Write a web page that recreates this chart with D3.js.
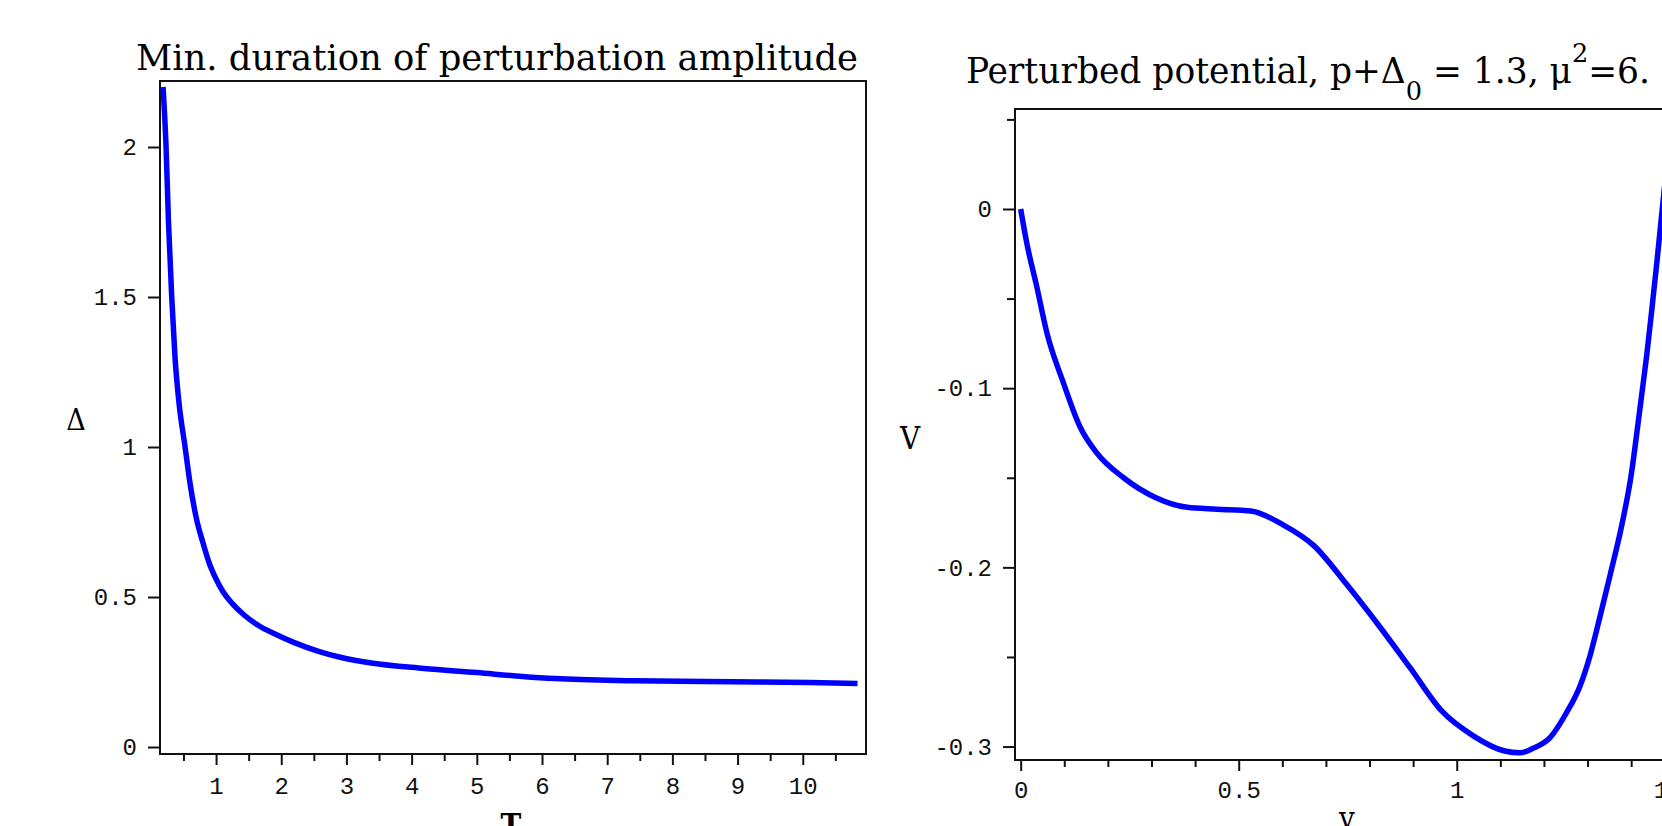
<!DOCTYPE html>
<html>
  <head>
    <meta charset="utf-8">
    <title>Perturbation plots</title>
    <style>

body {
  margin: 0;
  background: #fff;
  overflow: hidden;
}
.tick text {
  font-family: "Liberation Mono", "DejaVu Sans Mono", monospace;
  font-size: 24px;
  fill: #111;
}
.tick line {
  stroke: #111;
  stroke-width: 2;
}
.title, .alabel {
  font-family: "DejaVu Serif Condensed", "DejaVu Serif", serif;
  font-stretch: condensed;
  fill: #000;
}

    </style>
  </head>
  <body>
    <script src="https://cdn.jsdelivr.net/npm/d3@7"></script>
    <script>

    // left plot: minimum duration T vs perturbation amplitude Delta
    var durT = [0.187, 0.233, 0.27, 0.32, 0.37, 0.43, 0.525, 0.6, 0.7, 0.8, 0.9, 1.0, 1.1, 1.25,
                1.43, 1.65, 1.92, 2.2, 2.56, 2.89, 3.38, 4.19, 5.0, 5.7, 6.2, 7.4, 8.5, 10.1, 10.84];
    var durDelta = [2.2, 2.0, 1.75, 1.5, 1.3, 1.15, 1.0, 0.88, 0.76, 0.68, 0.61, 0.56, 0.52, 0.478,
                    0.44, 0.405, 0.375, 0.348, 0.32, 0.30, 0.28, 0.262, 0.248, 0.235, 0.228, 0.221, 0.218, 0.215, 0.212];
    var leftXMajor = [1, 2, 3, 4, 5, 6, 7, 8, 9, 10];
    var leftXMinor = [0.5, 1.5, 2.5, 3.5, 4.5, 5.5, 6.5, 7.5, 8.5, 9.5, 10.5];
    var leftYMajor = [0, 0.5, 1, 1.5, 2];

    // right plot: perturbed potential V(y)
    var potY = [0, 0.014, 0.037, 0.06, 0.098, 0.136, 0.174, 0.236, 0.309, 0.382, 0.45, 0.528, 0.6,
                0.673, 0.746, 0.82, 0.893, 0.965, 1.038, 1.11, 1.145, 1.175, 1.214, 1.252, 1.283,
                1.306, 1.329, 1.352, 1.378, 1.401, 1.413, 1.424, 1.436, 1.447, 1.458, 1.468, 1.478, 1.49];
    var potV = [0, -0.019, -0.0434, -0.069, -0.097, -0.1215, -0.136, -0.150, -0.161, -0.1665, -0.1675,
                -0.1685, -0.176, -0.188, -0.209, -0.232, -0.256, -0.28, -0.294, -0.3025, -0.3035, -0.301,
                -0.295, -0.281, -0.266, -0.249, -0.227, -0.204, -0.177, -0.147, -0.125, -0.104, -0.081,
                -0.057, -0.032, -0.008, 0.016, 0.045];
    var rightXMajor = [0, 0.5, 1, 1.5];
    var rightXMinor = [0.1, 0.2, 0.3, 0.4, 0.6, 0.7, 0.8, 0.9, 1.1, 1.2, 1.3, 1.4];
    var rightYMajor = [0, -0.1, -0.2, -0.3];
    var rightYMinor = [0.05, -0.05, -0.15, -0.25];

    var svg = d3.select('body').append('svg')
        .attr('width', 1662)
        .attr('height', 826);

    function panel(opts) {
      var x = d3.scaleLinear().domain(opts.xdom).range([opts.left, opts.right]),
          y = d3.scaleLinear().domain(opts.ydom).range([opts.bottom, opts.top]);

      var g = svg.append('g');

      g.append('rect')
          .attr('x', opts.left)
          .attr('y', opts.top)
          .attr('width', opts.right - opts.left)
          .attr('height', opts.bottom - opts.top)
          .style('fill', 'none')
          .style('stroke', '#111')
          .style('stroke-width', 2);

      var xa = g.append('g').attr('transform', 'translate(0,' + opts.bottom + ')');
      xa.append('g').call(d3.axisBottom(x).tickValues(opts.xMinor).tickSize(7).tickFormat(''));
      xa.append('g').call(d3.axisBottom(x).tickValues(opts.xMajor).tickSize(11)
          .tickPadding(opts.xPad).tickFormat(opts.xFmt));

      var ya = g.append('g').attr('transform', 'translate(' + opts.left + ',0)');
      if (opts.yMinor) {
        ya.append('g').call(d3.axisLeft(y).tickValues(opts.yMinor).tickSize(8).tickFormat(''));
      }
      ya.append('g').call(d3.axisLeft(y).tickValues(opts.yMajor).tickSize(12)
          .tickPadding(11).tickFormat(opts.yFmt));

      g.selectAll('.domain').remove();

      var pts = opts.xs.map(function(d, i) { return [d, opts.ys[i]]; });
      var line = d3.line()
          .x(function(d) { return x(d[0]); })
          .y(function(d) { return y(d[1]); })
          .curve(d3.curveMonotoneX);

      g.append('path')
          .datum(pts)
          .attr('d', line)
          .style('fill', 'none')
          .style('stroke', '#0000ff')
          .style('stroke-width', 5.5)
          .style('stroke-linejoin', 'round');
      return g;
    }

    function fmt(d) { return String(d); }

    panel({
      left: 160, right: 866, top: 81, bottom: 754,
      xdom: [0.14, 10.97], ydom: [-0.0233, 2.22],
      xMajor: leftXMajor, xMinor: leftXMinor, yMajor: leftYMajor,
      xFmt: fmt, yFmt: fmt, xPad: 12,
      xs: durT, ys: durDelta
    });

    panel({
      left: 1015, right: 1680, top: 109, bottom: 760,
      xdom: [-0.013, 1.512], ydom: [-0.3075, 0.0558],
      xMajor: rightXMajor, xMinor: rightXMinor, yMajor: rightYMajor, yMinor: rightYMinor,
      xFmt: fmt, yFmt: fmt, xPad: 10,
      xs: potY, ys: potV
    });

    // titles
    svg.append('text')
        .attr('class', 'title')
        .attr('x', 136)
        .attr('y', 70)
        .attr('textLength', 722)
        .attr('lengthAdjust', 'spacingAndGlyphs')
        .style('font-size', '35px')
        .text('Min. duration of perturbation amplitude');

    var t2 = svg.append('text')
        .attr('class', 'title')
        .attr('x', 966)
        .attr('y', 83)
        .style('font-size', '35px');
    t2.append('tspan').text('Perturbed potential, p+Δ');
    t2.append('tspan').attr('dy', 17).style('font-size', '26px').text('0');
    t2.append('tspan').attr('dy', -17).text(' = 1.3, μ');
    t2.append('tspan').attr('dy', -21).style('font-size', '26px').text('2');
    t2.append('tspan').attr('dy', 21).text('=6.');
    t2.attr('textLength', 684).attr('lengthAdjust', 'spacingAndGlyphs');

    // axis labels
    svg.append('text').attr('class', 'alabel')
        .attr('x', 76).attr('y', 430)
        .attr('text-anchor', 'middle')
        .style('font-size', '30px')
        .text('Δ');
    svg.append('text').attr('class', 'alabel')
        .attr('x', 910).attr('y', 449)
        .attr('text-anchor', 'middle')
        .style('font-size', '31px')
        .text('V');
    svg.append('text').attr('class', 'alabel')
        .attr('x', 511).attr('y', 836)
        .attr('text-anchor', 'middle')
        .style('font-size', '31px')
        .style('font-weight', 'bold')
        .text('T');
    svg.append('text').attr('class', 'alabel')
        .attr('x', 1347).attr('y', 829)
        .attr('text-anchor', 'middle')
        .style('font-size', '31px')
        .text('y');

    </script>
  </body>
</html>
